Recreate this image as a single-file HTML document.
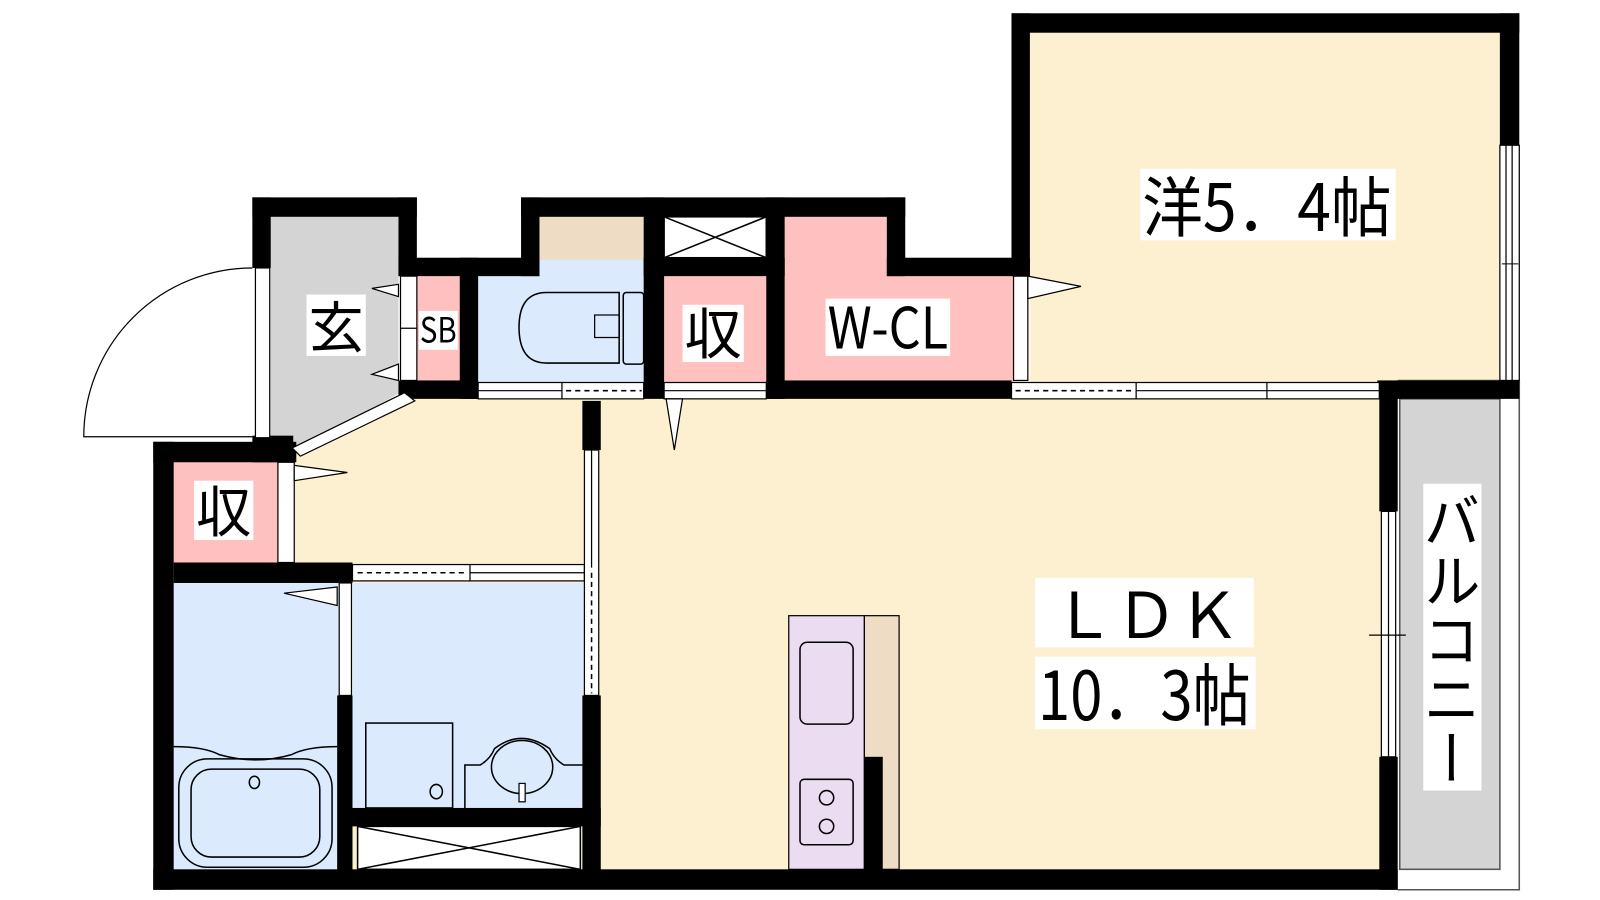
<!DOCTYPE html>
<html><head><meta charset="utf-8"><style>
html,body{margin:0;padding:0;background:#fff;width:1600px;height:900px;overflow:hidden}
svg{display:block}
text{font-family:"Noto Sans CJK JP","Liberation Sans",sans-serif;fill:#000}
</style></head><body>
<svg width="1600" height="900" viewBox="0 0 1566 880" preserveAspectRatio="none" xmlns="http://www.w3.org/2000/svg">
<!-- floors -->
<rect x="265" y="388" width="1087" height="464" fill="#fdf0d1"/>
<rect x="1008" y="32" width="462" height="342" fill="#fdf0d1"/>
<polygon points="265,212 390,212 390,385 290,440 265,440" fill="#d4d4d4"/>
<rect x="408" y="270" width="44" height="104" fill="#ffc0c0"/>
<rect x="468" y="252" width="164" height="122" fill="#dbeafd"/>
<rect x="528" y="212" width="104" height="42" fill="#eeddc4"/>
<rect x="650" y="270" width="102" height="104" fill="#ffc0c0"/>
<rect x="650" y="212" width="100" height="40" fill="#fff" stroke="#000" stroke-width="1.5"/>
<line x1="650" y1="212" x2="750" y2="252" stroke="#000" stroke-width="1.5"/>
<line x1="750" y1="212" x2="650" y2="252" stroke="#000" stroke-width="1.5"/>
<polygon points="768,212 870,212 870,270 992,270 992,374 768,374" fill="#ffc0c0"/>
<rect x="170" y="452" width="102" height="100" fill="#ffc0c0"/>
<rect x="170" y="570" width="162" height="282" fill="#dbeafd"/>
<rect x="345" y="570" width="227" height="222" fill="#dbeafd"/>
<rect x="350" y="808" width="218" height="42" fill="#fff" stroke="#000" stroke-width="1.5"/>
<line x1="350" y1="808" x2="568" y2="850" stroke="#000" stroke-width="1.5"/>
<line x1="568" y1="808" x2="350" y2="850" stroke="#000" stroke-width="1.5"/>
<rect x="1370" y="390" width="98" height="460" fill="#d4d4d4" stroke="#555" stroke-width="1.5"/>
<polyline points="1368,372 1487,372 1487,870 1368,870" fill="none" stroke="#555" stroke-width="1.5"/>
<rect x="1468" y="142" width="19" height="230" fill="#fff" stroke="#000" stroke-width="1.2"/>
<line x1="1474" y1="142" x2="1474" y2="372" stroke="#000" stroke-width="1.2"/>
<line x1="1480" y1="142" x2="1480" y2="372" stroke="#000" stroke-width="1.2"/>
<line x1="1470" y1="258" x2="1486" y2="258" stroke="#000" stroke-width="1"/>
<!-- kitchen -->
<rect x="772" y="602" width="74" height="248" fill="#ecdcf2" stroke="#000" stroke-width="1.2"/>
<rect x="846" y="602" width="34" height="248" fill="#eeddc4" stroke="#000" stroke-width="1.2"/>
<rect x="783" y="628" width="52" height="80" rx="7" fill="none" stroke="#000" stroke-width="1.5"/>
<rect x="783" y="762" width="52" height="64" rx="4" fill="none" stroke="#000" stroke-width="1.5"/>
<circle cx="809" cy="780" r="7" fill="none" stroke="#000" stroke-width="1.5"/>
<circle cx="809" cy="808" r="7" fill="none" stroke="#000" stroke-width="1.5"/>
<rect x="846" y="740" width="18" height="112" fill="#000"/>
<!-- toilet -->
<path d="M606,286 H535 Q508,286 508,320 Q508,355 535,355 H606 Z" fill="none" stroke="#000" stroke-width="1.5"/>
<rect x="610" y="286" width="20" height="70" rx="3" fill="none" stroke="#000" stroke-width="1.5"/>
<rect x="582" y="308" width="24" height="22" fill="none" stroke="#000" stroke-width="1.2"/>
<!-- bath -->
<path d="M170,730 Q200,730 215,738 Q250,748 285,738 Q300,730 330,730" fill="none" stroke="#000" stroke-width="1.5"/>
<rect x="175" y="742" width="150" height="106" rx="28" fill="none" stroke="#000" stroke-width="1.5"/>
<rect x="187" y="752" width="126" height="86" rx="20" fill="none" stroke="#000" stroke-width="1.5"/>
<ellipse cx="249" cy="765" rx="5" ry="6" fill="none" stroke="#000" stroke-width="1.5"/>
<rect x="358" y="707" width="85" height="83" fill="none" stroke="#000" stroke-width="1.5"/>
<ellipse cx="427" cy="774" rx="6" ry="7" fill="none" stroke="#000" stroke-width="1.5"/>
<path d="M455,790 V748 H470 Q480,742 484,732 Q510,712 538,732 Q542,742 552,748 H570" fill="none" stroke="#000" stroke-width="1.5"/>
<ellipse cx="511" cy="750" rx="30" ry="26" fill="none" stroke="#000" stroke-width="1.5"/>
<rect x="508" y="766" width="6" height="18" fill="#fff" stroke="#000" stroke-width="1.2"/>
<!-- walls -->
<g fill="#000">
<rect x="990" y="13" width="497" height="19"/>
<rect x="990" y="13" width="18" height="257"/>
<rect x="1468" y="13" width="19" height="129"/>
<rect x="1348" y="372" width="139" height="18"/>
<rect x="1350" y="372" width="18" height="128"/>
<rect x="1350" y="740" width="18" height="130"/>
<rect x="150" y="850" width="1218" height="20"/>
<rect x="150" y="432" width="20" height="438"/>
<rect x="150" y="432" width="140" height="20"/>
<rect x="170" y="550" width="175" height="20"/>
<rect x="247" y="193" width="161" height="19"/>
<rect x="247" y="193" width="18" height="69"/>
<rect x="390" y="193" width="18" height="77"/>
<rect x="390" y="252" width="138" height="18"/>
<rect x="510" y="193" width="376" height="19"/>
<rect x="510" y="193" width="18" height="77"/>
<rect x="630" y="193" width="20" height="197"/>
<rect x="630" y="252" width="138" height="18"/>
<rect x="750" y="193" width="18" height="197"/>
<rect x="868" y="193" width="18" height="77"/>
<rect x="868" y="252" width="140" height="18"/>
<rect x="750" y="372" width="240" height="18"/>
<rect x="450" y="252" width="18" height="138"/>
<rect x="390" y="372" width="78" height="18"/>
<rect x="570" y="392" width="18" height="48"/>
<rect x="570" y="680" width="18" height="172"/>
<rect x="330" y="680" width="15" height="172"/>
<rect x="345" y="790" width="243" height="18"/>
<rect x="247" y="426" width="40" height="26"/>
</g>
<!-- doors / windows -->
<g fill="#fff" stroke="#000" stroke-width="1.2">
<rect x="250" y="262" width="14" height="166"/>
<polygon points="396,384 406,392 294,446 286,438"/>
<rect x="392" y="270" width="16" height="102"/>
<rect x="272" y="452" width="16" height="98"/>
<rect x="468" y="374" width="162" height="16"/>
<rect x="650" y="374" width="100" height="16"/>
<rect x="992" y="270" width="14" height="102"/>
<rect x="990" y="374" width="360" height="16"/>
<rect x="345" y="552" width="227" height="16"/>
<rect x="572" y="440" width="14" height="240"/>
<rect x="332" y="570" width="12" height="110"/>
<rect x="1352" y="500" width="14" height="240"/>
</g>
<g stroke="#000" stroke-width="1.2" fill="#fff">
<line x1="392" y1="321" x2="408" y2="321"/>
<line x1="1112" y1="374" x2="1112" y2="390"/><line x1="1240" y1="374" x2="1240" y2="390"/>
<line x1="1112" y1="382" x2="1350" y2="382"/>
<line x1="468" y1="382" x2="550" y2="382"/><line x1="550" y1="374" x2="550" y2="390"/>
<line x1="460" y1="552" x2="460" y2="568"/><line x1="460" y1="560" x2="572" y2="560"/>
<line x1="579" y1="440" x2="579" y2="555"/>
<line x1="1359" y1="500" x2="1359" y2="740"/>
<line x1="1340" y1="621" x2="1376" y2="621"/>
<line x1="650" y1="382" x2="750" y2="382"/>
<polygon points="390,278 364,282 390,290"/>
<polygon points="390,356 364,366 390,372"/>
<polygon points="288,455 340,462 288,470"/>
<polygon points="330,574 278,580 330,592"/>
<polygon points="652,390 660,440 668,390"/>
<polygon points="1006,270 1058,280 1006,292"/>
<path d="M247,262 A165,165 0 0 0 82,427 H247" fill="none"/>
</g>
<g stroke="#000" stroke-width="1.5" stroke-dasharray="5,4">
<line x1="554" y1="382" x2="628" y2="382"/>
<line x1="994" y1="382" x2="1108" y2="382"/>
<line x1="350" y1="560" x2="456" y2="560"/>
<line x1="579" y1="560" x2="579" y2="678"/>
</g>
<!-- labels -->
<rect x="1116" y="165" width="250" height="70" fill="#fff"/>
<text x="1118" y="226" font-size="64" textLength="244" lengthAdjust="spacingAndGlyphs">洋5．4帖</text>
<rect x="808" y="292" width="122" height="56" fill="#fff"/>
<text x="810" y="341" font-size="56" textLength="118" lengthAdjust="spacingAndGlyphs">W-CL</text>
<rect x="668" y="298" width="60" height="56" fill="#fff"/>
<text x="670" y="346" font-size="54" textLength="56" lengthAdjust="spacingAndGlyphs">収</text>
<rect x="300" y="288" width="58" height="60" fill="#fff"/>
<text x="302" y="340" font-size="54" textLength="54" lengthAdjust="spacingAndGlyphs">玄</text>
<rect x="410" y="304" width="38" height="38" fill="#fff"/>
<text x="411" y="335" font-size="34" textLength="36" lengthAdjust="spacingAndGlyphs">SB</text>
<rect x="190" y="470" width="58" height="58" fill="#fff"/>
<text x="192" y="520" font-size="54" textLength="54" lengthAdjust="spacingAndGlyphs">収</text>
<rect x="1013" y="565" width="214" height="68" fill="#fff"/>
<text x="1030" y="624" font-size="62" textLength="184" lengthAdjust="spacingAndGlyphs">ＬＤＫ</text>
<rect x="1013" y="642" width="216" height="71" fill="#fff"/>
<text x="1016" y="704" font-size="66" textLength="208" lengthAdjust="spacingAndGlyphs">10．3帖</text>
<rect x="1393" y="473" width="57" height="300" fill="#fff"/>
<text x="1421" y="480" font-size="56" style="writing-mode:vertical-rl" textLength="290" lengthAdjust="spacingAndGlyphs">バルコニー</text>
</svg>
</body></html>
